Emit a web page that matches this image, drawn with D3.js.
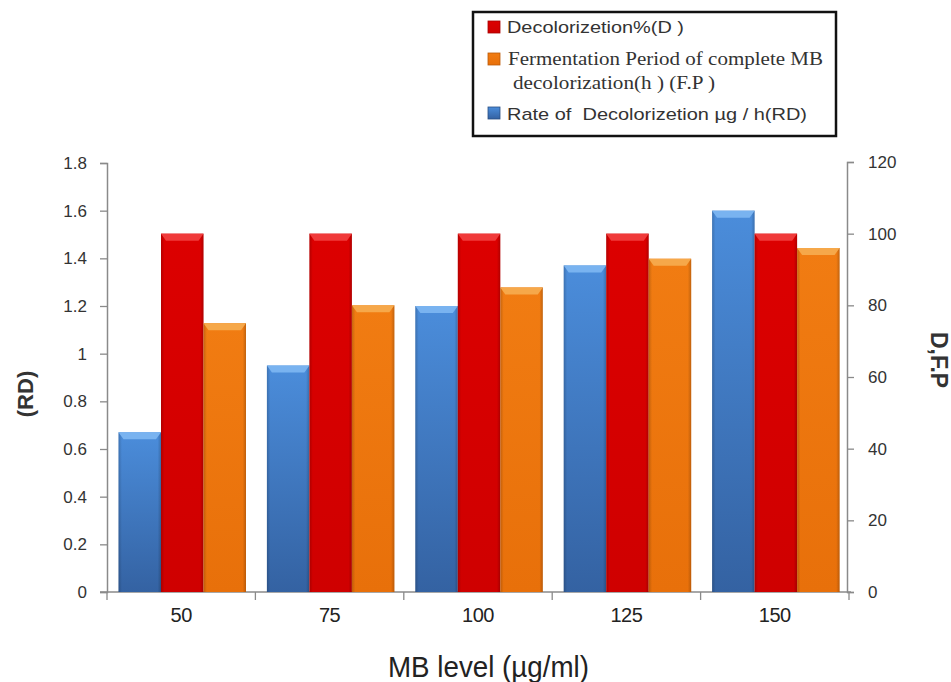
<!DOCTYPE html>
<html>
<head>
<meta charset="utf-8">
<script src="https://cdn.jsdelivr.net/npm/d3@7"></script>
<style>
  body { margin: 0; background: #fff; }
  svg { display: block; }
</style>
</head>
<body>
<svg width="951" height="682"></svg>
<script>
const levels = ['50', '75', '100', '125', '150'];
const seriesKeys = ['RD', 'D', 'FP'];
const rdValues = [0.67, 0.95, 1.2, 1.37, 1.6];   // left axis
const dValues = [100, 100, 100, 100, 100];       // right axis
const fpValues = [75, 80, 85, 93, 96];           // right axis
const leftTicks = [0, 0.2, 0.4, 0.6, 0.8, 1, 1.2, 1.4, 1.6, 1.8];
const rightTicks = [0, 20, 40, 60, 80, 100, 120];

const svg = d3.select('svg');

const x0 = d3.scaleBand().domain(levels).range([107, 849]);
const x1 = d3.scaleBand().domain(seriesKeys).range([11.5, 139]);
const yL = d3.scaleLinear().domain([0, 1.8]).range([592, 163]);
const yR = d3.scaleLinear().domain([0, 120]).range([592, 162]);

const sansFont = '"Liberation Sans", Arial, sans-serif';
const serifFont = '"Liberation Serif", "Times New Roman", serif';

// gradients for the bar bodies
const defs = svg.append('defs');
const grads = {
  RD: ['#4b8ddb', '#3462a2'],
  D:  ['#dc0000', '#cf0000'],
  FP: ['#f17c12', '#e8700a']
};
Object.keys(grads).forEach(k => {
  const lg = defs.append('linearGradient')
    .attr('id', 'g' + k).attr('x1', 0).attr('y1', 0).attr('x2', 0).attr('y2', 1);
  lg.append('stop').attr('offset', '0%').attr('stop-color', grads[k][0]);
  lg.append('stop').attr('offset', '100%').attr('stop-color', grads[k][1]);
  const side = defs.append('linearGradient')
    .attr('id', 's' + k).attr('x1', 0).attr('y1', 0).attr('x2', 1).attr('y2', 0);
  side.append('stop').attr('offset', '0%').attr('stop-color', '#000').attr('stop-opacity', 0.18);
  side.append('stop').attr('offset', '8%').attr('stop-color', '#000').attr('stop-opacity', 0);
  side.append('stop').attr('offset', '92%').attr('stop-color', '#000').attr('stop-opacity', 0);
  side.append('stop').attr('offset', '100%').attr('stop-color', '#000').attr('stop-opacity', 0.2);
});
const topColor = { RD: '#79b3f0', D: '#f03a3a', FP: '#f6a84a' };

const rows = levels.map((lv, i) => ({
  level: lv,
  bars: [
    { key: 'RD', y: yL(rdValues[i]) },
    { key: 'D', y: yR(dValues[i]) },
    { key: 'FP', y: yR(fpValues[i]) }
  ]
}));

// axes
const leftAxis = svg.append('g')
  .attr('transform', 'translate(107,0)')
  .call(d3.axisLeft(yL).tickValues(leftTicks).tickSize(7).tickPadding(13)
    .tickFormat(d => d === 0 ? '0' : d3.format('~g')(d)));
const rightAxis = svg.append('g')
  .attr('transform', 'translate(847,0)')
  .call(d3.axisRight(yR).tickValues(rightTicks).tickSize(7).tickPadding(14));
const bottomAxis = svg.append('g')
  .attr('transform', 'translate(0,592)')
  .call(d3.axisBottom(x0).tickSize(0).tickPadding(16));

[leftAxis, rightAxis].forEach(a => {
  a.select('.domain').attr('stroke', '#8a8a8a').attr('stroke-width', 1.5);
  a.selectAll('.tick line').attr('stroke', '#8a8a8a').attr('stroke-width', 1.3);
  a.selectAll('.tick text').attr('font-family', sansFont).attr('font-size', 17).attr('fill', '#333');
});
bottomAxis.select('.domain').attr('d', 'M100,0H851').attr('stroke', '#8a8a8a').attr('stroke-width', 1.5);
bottomAxis.selectAll('.tick text').attr('font-family', sansFont).attr('font-size', 20)
  .attr('fill', '#222').attr('dy', '0.71em').attr('letter-spacing', -0.5);
// category boundary ticks
bottomAxis.selectAll('.sep')
  .data(levels.concat(['end']))
  .join('line')
  .attr('x1', (d, i) => i < levels.length ? x0(d) : x0.range()[1])
  .attr('x2', (d, i) => i < levels.length ? x0(d) : x0.range()[1])
  .attr('y1', 0).attr('y2', 8)
  .attr('stroke', '#8a8a8a').attr('stroke-width', 1.3);

// bars
const groups = svg.append('g').selectAll('g')
  .data(rows)
  .join('g')
  .attr('transform', d => `translate(${x0(d.level)},0)`);

const bar = groups.selectAll('g')
  .data(d => d.bars)
  .join('g');

bar.append('rect')
  .attr('x', d => x1(d.key))
  .attr('y', d => d.y)
  .attr('width', x1.bandwidth())
  .attr('height', d => 592 - d.y)
  .attr('fill', d => `url(#g${d.key})`);
bar.append('rect')
  .attr('x', d => x1(d.key))
  .attr('y', d => d.y)
  .attr('width', x1.bandwidth())
  .attr('height', d => 592 - d.y)
  .attr('fill', d => `url(#s${d.key})`);
bar.append('path')
  .attr('d', d => {
    const xa = x1(d.key), w = x1.bandwidth();
    return `M${xa},${d.y}H${xa + w}L${xa + w - 5},${d.y + 7}H${xa + 5}Z`;
  })
  .attr('fill', d => topColor[d.key]);

// axis titles
svg.append('text')
  .attr('transform', 'translate(33,394) rotate(-90)')
  .attr('text-anchor', 'middle')
  .attr('font-family', sansFont).attr('font-weight', 'bold').attr('font-size', 22)
  .attr('fill', '#333')
  .text('(RD)');
svg.append('text')
  .attr('transform', 'translate(931,360) rotate(90)')
  .attr('text-anchor', 'middle')
  .attr('font-family', sansFont).attr('font-weight', 'bold').attr('font-size', 23)
  .attr('fill', '#333')
  .text('D,F.P');
svg.append('text')
  .attr('x', 388).attr('y', 677)
  .attr('font-family', sansFont).attr('font-size', 30)
  .attr('fill', '#222')
  .attr('textLength', 201).attr('lengthAdjust', 'spacingAndGlyphs')
  .text('MB level (µg/ml)');

// legend
const legend = svg.append('g');
legend.append('rect')
  .attr('x', 473).attr('y', 12).attr('width', 363).attr('height', 124)
  .attr('fill', '#fff').attr('stroke', '#111').attr('stroke-width', 2.5);

const legendItems = [
  { key: 'D', y: 21, font: sansFont, size: 17,
    lines: [{ t: 'Decolorizetion%(D )', x: 507, y: 33, w: 177 }] },
  { key: 'FP', y: 53, font: serifFont, size: 19,
    lines: [{ t: 'Fermentation Period of complete MB', x: 508, y: 65, w: 315 },
            { t: 'decolorization(h ) (F.P )', x: 513, y: 89, w: 202 }] },
  { key: 'RD', y: 107, font: sansFont, size: 17,
    lines: [{ t: 'Rate of  Decolorizetion µg / h(RD)', x: 507, y: 120, w: 300 }] }
];
const li = legend.selectAll('g.item')
  .data(legendItems)
  .join('g').attr('class', 'item');
li.append('rect')
  .attr('x', 488).attr('y', d => d.y).attr('width', 12).attr('height', 12)
  .attr('fill', d => `url(#g${d.key})`)
  .attr('stroke', d => d3.color(grads[d.key][1]).darker(0.6)).attr('stroke-width', 0.8);
li.each(function (d) {
  const g = d3.select(this);
  d.lines.forEach(ln => {
    g.append('text')
      .attr('x', ln.x).attr('y', ln.y)
      .attr('font-family', d.font).attr('font-size', d.size)
      .attr('fill', '#333')
      .attr('textLength', ln.w).attr('lengthAdjust', 'spacingAndGlyphs')
      .style('white-space', 'pre')
      .text(ln.t);
  });
});
</script>
</body>
</html>
